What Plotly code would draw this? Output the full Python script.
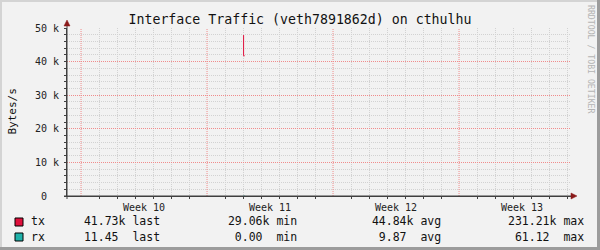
import plotly.graph_objects as go

# ---------------- data ----------------
week_labels = ["Week 10", "Week 11", "Week 12", "Week 13"]
week_starts = [0, 7, 14, 21]            # days since start of week 10
week_mids = [3.5, 10.5, 17.5, 24.5]
x_range = [-0.78, 27.22]
y_tickvals = [0, 10000, 20000, 30000, 40000, 50000]
y_ticktext = ["0  ", "10 k", "20 k", "30 k", "40 k", "50 k"]
y_range = [0, 50000]

tx_days = [9.03, 9.03, 9.09]
tx_vals = [47900, 41730, 41730]
rx_days = [9.03, 9.09]
rx_vals = [61.12, 11.45]

series_names = ["tx", "rx"]
series_colors = ["#e0103c", "#20b2aa"]
stat_labels = ["last", "min", "avg", "max"]
tx_stats = [41.73, 29.06, 44.84, 231.21]
tx_suffix = "k"
rx_stats = [11.45, 0.00, 9.87, 61.12]
rx_suffix = " "

title = "Interface Traffic (veth7891862d) on cthulhu"
y_title = "Bytes/s"
watermark = "RRDTOOL / TOBI OETIKER"

# ---------------- layout geometry ----------------
W, H = 600, 250
L, R, T, B = 67, 571, 28, 196
PW, PH = R - L, B - T
BG = "#f2f2f2"
MONO = "DejaVu Sans Mono"
AXIS = "#404040"
ARROW = "#8b1a1a"
MGRID = "#f08c8c"
GRID = "#d2d2d2"

# minor grid positions (days / 2k steps) that are not major lines
x_minor = [d for d in range(-1, 28) if x_range[0] < d < x_range[1] and d % 7 != 0]
y_minor = [v for v in range(0, 50001, 2000) if v % 10000 != 0]


def px(x):
    return (x - L) / PW


def py(y):
    return (B - y) / PH


fig = go.Figure()
fig.add_trace(go.Scatter(x=rx_days, y=rx_vals, mode="lines",
                         line=dict(color=series_colors[1], width=1),
                         name=series_names[1], hoverinfo="skip"))
fig.add_trace(go.Scatter(x=tx_days, y=tx_vals, mode="lines",
                         line=dict(color=series_colors[0], width=1),
                         name=series_names[0], hoverinfo="skip"))

fig.update_layout(
    width=W, height=H,
    margin=dict(l=L, r=W - R, t=T, b=H - B, pad=0),
    paper_bgcolor=BG, plot_bgcolor=BG,
    showlegend=False,
    font=dict(family=MONO, size=10, color="#222222"),
    title=dict(text=title, x=300 / W, xanchor="center", xref="container",
               y=1 - 19 / H, yanchor="middle", yref="container",
               font=dict(family=MONO, size=13.25, color="#111111")),
    xaxis=dict(range=x_range, tickmode="array", tickvals=week_mids,
               ticktext=week_labels, showgrid=False,
               zeroline=False, showline=True, linecolor=AXIS, linewidth=1,
               ticks="", ticklabelstandoff=2,
               tickfont=dict(family=MONO, size=10, color="#222222"),
               minor=dict(tickmode="array", tickvals=x_minor, showgrid=True,
                          gridcolor=GRID, griddash="1px,1px", ticks="outside",
                          ticklen=2, tickcolor=AXIS),
               fixedrange=True),
    yaxis=dict(range=y_range, tickmode="array", tickvals=y_tickvals,
               ticktext=[t.replace(" ", "\u00a0") for t in y_ticktext],
               showgrid=True, gridcolor=MGRID, gridwidth=1, griddash="1px,1px",
               zeroline=False, showline=True, linecolor=AXIS, linewidth=1,
               ticks="outside", ticklen=2, tickcolor=AXIS,
               tickfont=dict(family=MONO, size=10, color="#222222"),
               ticklabelstandoff=3,
               minor=dict(tickmode="array", tickvals=y_minor, showgrid=True,
                          gridcolor=GRID, griddash="1px,1px", ticks="outside",
                          ticklen=2, tickcolor=AXIS),
               fixedrange=True),
)

shapes = []
# week boundaries as dotted red lines (between grid and traces)
for d in week_starts:
    shapes.append(dict(type="line", xref="x", yref="y", x0=d, x1=d,
                       y0=y_range[0], y1=y_range[1],
                       layer="between", line=dict(color=MGRID, width=1, dash="1px,1px")))
# axis extensions
shapes.append(dict(type="line", xref="paper", yref="paper", x0=px(L), x1=px(L),
                   y0=py(B + 3), y1=py(22), line=dict(color=AXIS, width=1)))
shapes.append(dict(type="line", xref="paper", yref="paper", x0=px(L - 3), x1=px(574),
                   y0=0, y1=0, line=dict(color=AXIS, width=1)))
# arrow heads
shapes.append(dict(type="path", xref="paper", yref="paper",
                   path=f"M {px(L-3)},{py(26)} L {px(L+3)},{py(26)} L {px(L)},{py(20)} Z",
                   fillcolor=ARROW, line=dict(color=ARROW, width=0.5)))
shapes.append(dict(type="path", xref="paper", yref="paper",
                   path=f"M {px(571)},{py(B-3)} L {px(571)},{py(B+3)} L {px(577)},{py(B)} Z",
                   fillcolor=ARROW, line=dict(color=ARROW, width=0.5)))
# frame (3D shading)
shapes.append(dict(type="rect", xref="paper", yref="paper", x0=px(0), x1=px(2),
                   y0=py(H), y1=py(0), fillcolor="#d4d4d4", line=dict(width=0)))
shapes.append(dict(type="rect", xref="paper", yref="paper", x0=px(0), x1=px(W),
                   y0=py(2), y1=py(0), fillcolor="#d4d4d4", line=dict(width=0)))
shapes.append(dict(type="rect", xref="paper", yref="paper", x0=px(W - 3), x1=px(W),
                   y0=py(H), y1=py(0), fillcolor="#9c9c9c", line=dict(width=0)))
shapes.append(dict(type="rect", xref="paper", yref="paper", x0=px(0), x1=px(W),
                   y0=py(H), y1=py(H - 3), fillcolor="#9c9c9c", line=dict(width=0)))

annotations = []
# y title
annotations.append(dict(text=y_title, xref="paper", yref="paper", x=px(12), y=py(111.5),
                        textangle=-90, showarrow=False, xanchor="center", yanchor="middle",
                        font=dict(family=MONO, size=11, color="#111111")))
# watermark
annotations.append(dict(text=watermark, xref="paper", yref="paper", x=px(591), y=py(59),
                        textangle=90, showarrow=False, xanchor="center", yanchor="middle",
                        font=dict(family=MONO, size=8.2, color="#b4b4b4")))

# legend rows
col_starts = [75.8, 219.8, 363.5, 507.3]
rows = [(series_names[0], series_colors[0], tx_stats, tx_suffix, 222.0),
        (series_names[1], series_colors[1], rx_stats, rx_suffix, 237.0)]
for name, color, stats, suffix, yc in rows:
    shapes.append(dict(type="rect", xref="paper", yref="paper",
                       x0=px(15), x1=px(23), y0=py(yc + 4), y1=py(yc - 4),
                       fillcolor=color, line=dict(color="#000000", width=1)))
    annotations.append(dict(text=name, xref="paper", yref="paper", x=px(30), y=py(yc - 0.5),
                            showarrow=False, xanchor="left", yanchor="middle", borderpad=0,
                            font=dict(family=MONO, size=11.5, color="#111111")))
    for cx, val, lab in zip(col_starts, stats, stat_labels):
        s = f"{val:6.2f}{suffix} {lab}".replace(" ", "\u00a0")
        annotations.append(dict(text=s, xref="paper", yref="paper", x=px(cx), y=py(yc - 0.5),
                                showarrow=False, xanchor="left", yanchor="middle", borderpad=0,
                                font=dict(family=MONO, size=11.5, color="#111111")))

fig.update_layout(shapes=shapes, annotations=annotations)
fig.write_html("out.html", config={"displayModeBar": False})
